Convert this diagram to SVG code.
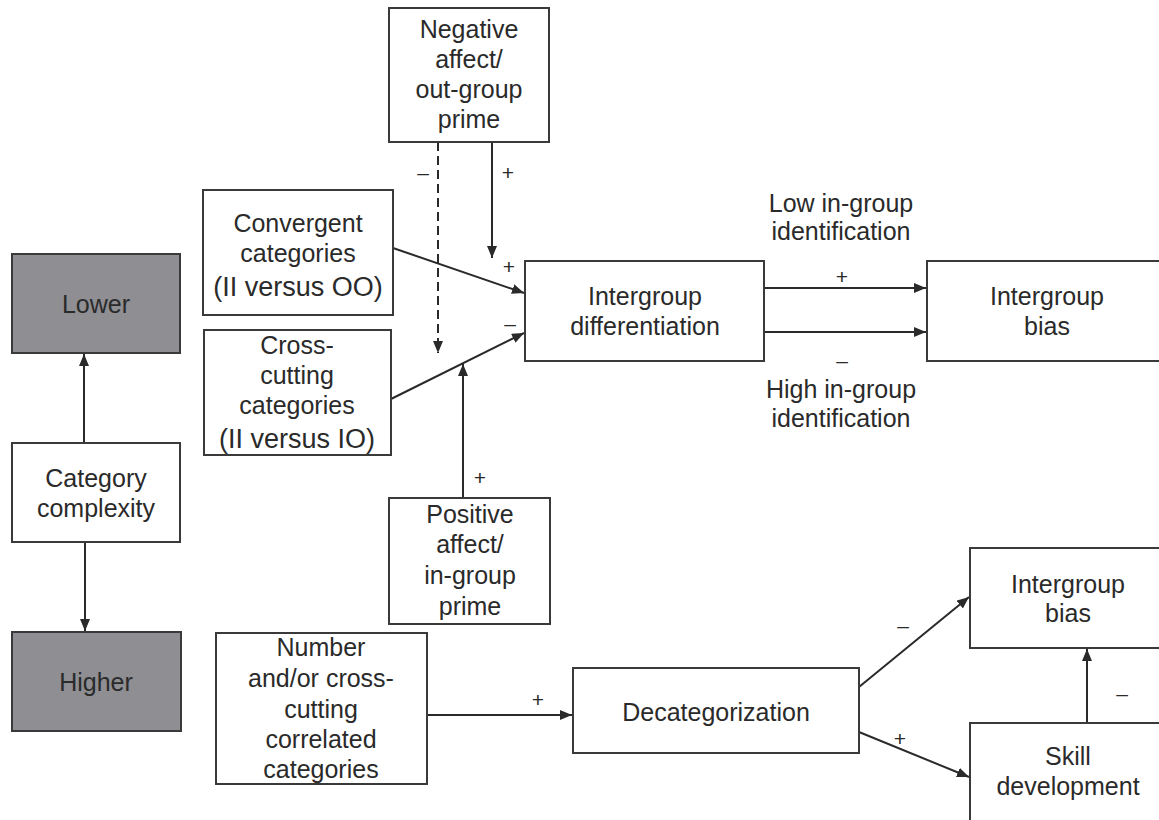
<svg xmlns="http://www.w3.org/2000/svg" width="1159" height="820" viewBox="0 0 1159 820">
<style>
.box{fill:#fff;stroke:#3a3a3a;stroke-width:2}
.dark{fill:#8e8e93;stroke:#3a3a3a;stroke-width:2}
text{font-family:"Liberation Sans",Arial,sans-serif;font-size:25px;fill:#2a2a2a;text-anchor:middle}
.big{font-size:27px}
.sg{font-size:21px}
.ln{stroke:#2a2a2a;stroke-width:2;fill:none}
.dash{stroke-dasharray:9 5}
</style>
<defs>
<marker id="ah" viewBox="0 0 12 10" refX="12" refY="5" markerWidth="12" markerHeight="10" markerUnits="userSpaceOnUse" orient="auto">
<path d="M0,0 L12,5 L0,10 Z" fill="#2a2a2a"/>
</marker>
</defs>
<rect width="1159" height="820" fill="#fff"/>

<g id="connectors">
<line class="ln" x1="84" y1="443" x2="84" y2="354" marker-end="url(#ah)"/>
<line class="ln" x1="85" y1="542" x2="85" y2="631" marker-end="url(#ah)"/>
<line class="ln dash" x1="438" y1="142" x2="438" y2="353" marker-end="url(#ah)"/>
<line class="ln" x1="492" y1="142" x2="492" y2="258" marker-end="url(#ah)"/>
<line class="ln" x1="393" y1="248" x2="524" y2="293" marker-end="url(#ah)"/>
<line class="ln" x1="391" y1="399" x2="524" y2="333" marker-end="url(#ah)"/>
<line class="ln" x1="463" y1="498" x2="463" y2="364" marker-end="url(#ah)"/>
<line class="ln" x1="764" y1="288" x2="926" y2="288" marker-end="url(#ah)"/>
<line class="ln" x1="764" y1="332" x2="926" y2="332" marker-end="url(#ah)"/>
<line class="ln" x1="427" y1="715" x2="572" y2="715" marker-end="url(#ah)"/>
<line class="ln" x1="859" y1="687" x2="969" y2="597" marker-end="url(#ah)"/>
<line class="ln" x1="859" y1="732" x2="969" y2="777" marker-end="url(#ah)"/>
<line class="ln" x1="1087" y1="723" x2="1087" y2="649" marker-end="url(#ah)"/>
<text class="sg" x="423" y="180">–</text>
<text class="sg" x="508" y="180">+</text>
<text class="sg" x="509" y="274">+</text>
<text class="sg" x="510" y="331">–</text>
<text class="sg" x="842" y="284">+</text>
<text class="sg" x="842" y="368">–</text>
<text class="sg" x="480" y="485">+</text>
<text class="sg" x="538" y="707">+</text>
<text class="sg" x="903" y="633">–</text>
<text class="sg" x="900" y="746">+</text>
<text class="sg" x="1122" y="701">–</text>
<text x="841" y="212">Low in-group</text>
<text x="841" y="240">identification</text>
<text x="841" y="398">High in-group</text>
<text x="841" y="427">identification</text>
</g>

<g id="lower">
<rect class="dark" x="12" y="254" width="168" height="99"/>
<text x="96" y="313">Lower</text>
</g>
<g id="category-complexity">
<rect class="box" x="12" y="443" width="168" height="99"/>
<text x="96" y="487">Category</text>
<text x="96" y="517">complexity</text>
</g>
<g id="higher">
<rect class="dark" x="12" y="632" width="169" height="99"/>
<text x="96" y="691">Higher</text>
</g>
<g id="negative-affect">
<rect class="box" x="389" y="8" width="160" height="134"/>
<text x="469" y="38">Negative</text>
<text x="469" y="68">affect/</text>
<text x="469" y="98">out-group</text>
<text x="469" y="128">prime</text>
</g>
<g id="convergent">
<rect class="box" x="203" y="190" width="190" height="125"/>
<text x="298" y="232">Convergent</text>
<text x="298" y="262">categories</text>
<text class="big" x="298" y="296">(II versus OO)</text>
</g>
<g id="cross-cutting">
<rect class="box" x="204" y="330" width="187" height="125"/>
<text x="297" y="354">Cross-</text>
<text x="297" y="384">cutting</text>
<text x="297" y="414">categories</text>
<text class="big" x="297" y="448">(II versus IO)</text>
</g>
<g id="positive-affect">
<rect class="box" x="389" y="498" width="161" height="126"/>
<text x="470" y="523">Positive</text>
<text x="470" y="553">affect/</text>
<text x="470" y="584">in-group</text>
<text x="470" y="615">prime</text>
</g>
<g id="intergroup-differentiation">
<rect class="box" x="525" y="261" width="239" height="100"/>
<text x="645" y="305">Intergroup</text>
<text x="645" y="335">differentiation</text>
</g>
<g id="intergroup-bias-1">
<rect class="box" x="927" y="261" width="240" height="100"/>
<text x="1047" y="305">Intergroup</text>
<text x="1047" y="335">bias</text>
</g>
<g id="number-categories">
<rect class="box" x="216" y="633" width="211" height="151"/>
<text x="321" y="656">Number</text>
<text x="321" y="687">and/or cross-</text>
<text x="321" y="718">cutting</text>
<text x="321" y="748">correlated</text>
<text x="321" y="778">categories</text>
</g>
<g id="decategorization">
<rect class="box" x="573" y="668" width="286" height="85"/>
<text x="716" y="721">Decategorization</text>
</g>
<g id="intergroup-bias-2">
<rect class="box" x="970" y="548" width="196" height="100"/>
<text x="1068" y="593">Intergroup</text>
<text x="1068" y="622">bias</text>
</g>
<g id="skill-development">
<rect class="box" x="970" y="723" width="196" height="110"/>
<text x="1068" y="765">Skill</text>
<text x="1068" y="795">development</text>
</g>
</svg>
